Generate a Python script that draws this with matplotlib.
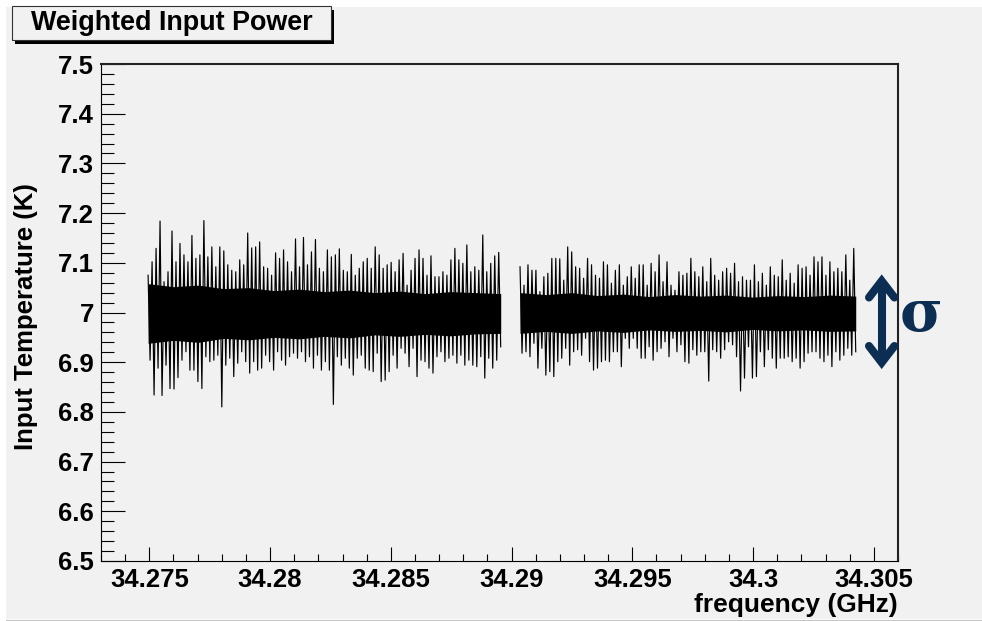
import numpy as np
import matplotlib
matplotlib.use('Agg')
import matplotlib.pyplot as plt
import matplotlib.ticker as mticker
import matplotlib.transforms as mtransforms
from matplotlib.patches import Rectangle
from matplotlib.lines import Line2D

W, H = 982, 621
BG = '#f1f1f1'
NAVY = '#0c2e52'

plt.rcParams['font.family'] = ['Liberation Sans', 'DejaVu Sans']
plt.rcParams['font.weight'] = 'bold'

title = 'Weighted Input Power'
x_label = 'frequency (GHz)'
y_label = 'Input Temperature (K)'
x_range = (34.273, 34.306)
y_range = (6.5, 7.5)

# first block of channels (GHz range), peak-high / peak-low temperatures
seg1_freq = (34.27495, 34.28955)
seg1_upper = [
    7.075, 7.102, 7.129, 7.184, 7.062, 7.082, 7.164, 7.102, 7.139, 7.116,
    7.102, 7.155, 7.109, 7.116, 7.185, 7.112, 7.132, 7.092, 7.132, 7.124,
    7.096, 7.085, 7.082, 7.106, 7.096, 7.160, 7.130, 7.132, 7.142, 7.092,
    7.089, 7.075, 7.120, 7.109, 7.126, 7.102, 7.082, 7.148, 7.092, 7.151,
    7.096, 7.122, 7.147, 7.089, 7.082, 7.126, 7.112, 7.116, 7.128, 7.085,
    7.082, 7.117, 7.075, 7.089, 7.102, 7.109, 7.089, 7.132, 7.116,
    7.089, 7.096, 7.101, 7.082, 7.106, 7.119, 7.055, 7.085, 7.109, 7.126,
    7.109, 7.075, 7.114, 7.072, 7.072, 7.082, 7.075, 7.106, 7.129, 7.106,
    7.099, 7.136, 7.082, 7.092, 7.085, 7.156, 7.082, 7.099, 7.114, 7.121,
]
seg1_lower = [
    6.904, 6.834, 6.888, 6.833, 6.894, 6.847, 6.846, 6.869, 6.904, 6.921,
    6.884, 6.884, 6.861, 6.847, 6.911, 6.901, 6.904, 6.914, 6.810, 6.894,
    6.908, 6.871, 6.898, 6.921, 6.901, 6.878, 6.901, 6.884, 6.888, 6.914,
    6.901, 6.884, 6.921, 6.904, 6.894, 6.911, 6.918, 6.908, 6.921, 6.901,
    6.911, 6.888, 6.914, 6.884, 6.901, 6.884, 6.815, 6.911, 6.894, 6.908,
    6.888, 6.874, 6.908, 6.914, 6.888, 6.884, 6.881, 6.918, 6.861,
    6.864, 6.881, 6.914, 6.888, 6.928, 6.918, 6.891, 6.928, 6.871, 6.904,
    6.901, 6.888, 6.878, 6.911, 6.921, 6.901, 6.908, 6.914, 6.898, 6.914,
    6.894, 6.904, 6.894, 6.891, 6.911, 6.868, 6.908, 6.888, 6.904, 6.931,
]
# edges of the solid dark band
seg1_core_hi = [7.058, 7.052, 7.055, 7.048, 7.050, 7.044, 7.047, 7.042,
                7.045, 7.040, 7.043, 7.038, 7.042, 7.040, 7.038]
seg1_core_lo = [6.938, 6.944, 6.940, 6.948, 6.945, 6.950, 6.947, 6.952,
                6.949, 6.955, 6.952, 6.956, 6.953, 6.957, 6.958]

# second block of channels
seg2_freq = (34.29035, 34.30425)
seg2_upper = [
    7.092, 7.055, 7.096, 7.085, 7.085, 7.042, 7.072, 7.079, 7.109, 7.109,
    7.108, 7.065, 7.132, 7.122, 7.092, 7.089, 7.069, 7.109, 7.096, 7.075,
    7.069, 7.102, 7.096, 7.059, 7.085, 7.096, 7.055, 7.072, 7.092, 7.069,
    7.096, 7.096, 7.055, 7.099, 7.082, 7.116, 7.062, 7.102, 7.055, 7.045,
    7.082, 7.075, 7.079, 7.109, 7.082, 7.072, 7.092, 7.062, 7.109, 7.075,
    7.065, 7.082, 7.089, 7.079, 7.099, 7.062, 7.072, 7.065, 7.065, 7.096,
    7.062, 7.079, 7.055, 7.092, 7.075, 7.072, 7.106, 7.065, 7.079, 7.059,
    7.096, 7.089, 7.092, 7.075, 7.112, 7.102, 7.112, 7.075, 7.102, 7.082,
    7.089, 7.082, 7.116, 7.065, 7.129,
]
seg2_lower = [
    6.918, 6.921, 6.911, 6.938, 6.888, 6.928, 6.874, 6.881, 6.871, 6.901,
    6.908, 6.928, 6.894, 6.921, 6.925, 6.914, 6.948, 6.901, 6.884, 6.888,
    6.901, 6.904, 6.901, 6.921, 6.921, 6.891, 6.948, 6.928, 6.948, 6.928,
    6.908, 6.908, 6.931, 6.904, 6.921, 6.928, 6.941, 6.911, 6.948, 6.921,
    6.935, 6.901, 6.898, 6.925, 6.914, 6.921, 6.921, 6.862, 6.925, 6.921,
    6.908, 6.925, 6.941, 6.935, 6.911, 6.842, 6.868, 6.931, 6.868, 6.871,
    6.921, 6.891, 6.925, 6.908, 6.888, 6.908, 6.908, 6.911, 6.901, 6.908,
    6.888, 6.901, 6.918, 6.921, 6.921, 6.908, 6.901, 6.914, 6.891, 6.921,
    6.904, 6.914, 6.928, 6.914, 6.921,
]
seg2_core_hi = [7.040, 7.036, 7.040, 7.034, 7.037, 7.032, 7.036,
                7.033, 7.035, 7.031, 7.034, 7.032, 7.035, 7.033]
seg2_core_lo = [6.958, 6.962, 6.958, 6.963, 6.960, 6.965, 6.962,
                6.964, 6.961, 6.966, 6.963, 6.965, 6.962, 6.963]

fig = plt.figure(figsize=(W / 100, H / 100), dpi=100, facecolor='white')
# pixel coords measured from the top-left corner, for the decorations
px = mtransforms.Affine2D().scale(1, -1).translate(0, H)

fig.add_artist(Rectangle((6, 7), W - 6, 612, transform=px, facecolor=BG,
                         edgecolor='none', zorder=-10))
fig.add_artist(Line2D([6, W], [619.5, 619.5], transform=px, color='#c4c4c4', lw=0.8, zorder=-9))

ax = fig.add_axes([101 / W, (H - 561) / H, 797 / W, 497 / H])
ax.set_facecolor(BG)

for frange, up, lo, chi, clo in [(seg1_freq, seg1_upper, seg1_lower, seg1_core_hi, seg1_core_lo),
                                  (seg2_freq, seg2_upper, seg2_lower, seg2_core_hi, seg2_core_lo)]:
    f = np.linspace(frange[0], frange[1], 2 * len(up))
    t = np.column_stack([up, lo]).ravel()
    ax.plot(f, t, color='black', lw=0.85)
    fc = np.linspace(frange[0], frange[1], len(chi))
    ax.fill_between(fc, clo, chi, color='black', lw=0)

ax.set_xlim(*x_range)
ax.set_ylim(*y_range)

fmt = mticker.FuncFormatter(lambda v, p: f'{round(v, 6):g}')
ax.xaxis.set_major_locator(mticker.MultipleLocator(0.005))
ax.xaxis.set_minor_locator(mticker.MultipleLocator(0.001))
ax.yaxis.set_major_locator(mticker.MultipleLocator(0.1))
ax.yaxis.set_minor_locator(mticker.MultipleLocator(0.02))
ax.xaxis.set_major_formatter(fmt)
ax.yaxis.set_major_formatter(fmt)

ax.tick_params(which='both', direction='in', top=False, right=False, color='black')
ax.tick_params(axis='x', which='major', length=10, width=0.8, pad=5, labelsize=18.5)
ax.tick_params(axis='x', which='minor', length=5, width=0.8)
ax.tick_params(axis='y', which='major', length=17, width=0.8, pad=5, labelsize=18.5)
ax.tick_params(axis='y', which='minor', length=9, width=0.8)

for s in ['left', 'bottom']:
    ax.spines[s].set_linewidth(0.8)
    ax.spines[s].set_color('black')
for s in ['top', 'right']:
    ax.spines[s].set_linewidth(1.5)
    ax.spines[s].set_color('#222222')

ax.text(1.0, (561 - 605) / 497, x_label, transform=ax.transAxes, ha='right', va='center',
        fontsize=19)
ax.text(-75 / 797, (561 - 316.5) / 497, y_label, transform=ax.transAxes, rotation=90,
        ha='center', va='center', fontsize=18.5)

# title box with shadow
fig.add_artist(Rectangle((15, 9.5), 319, 34, transform=px, facecolor='black',
                         edgecolor='none', zorder=5))
fig.add_artist(Rectangle((12, 6), 319, 34, transform=px, facecolor=BG,
                         edgecolor='#333333', lw=0.8, zorder=6))
fig.text(171.5, 23, title, transform=px, ha='center', va='center', fontsize=19.4, zorder=7)

# sigma marker
fig.add_artist(Line2D([881.7, 881.7], [282, 361], transform=px, color=NAVY, lw=5.8,
                      solid_capstyle='butt', zorder=8))
fig.add_artist(Line2D([869, 881.7, 894.4], [297.5, 281, 297.5], transform=px, color=NAVY,
                      lw=5.8, solid_joinstyle='miter', solid_capstyle='round', zorder=8))
fig.add_artist(Line2D([869, 881.7, 894.4], [346, 362.5, 346], transform=px, color=NAVY,
                      lw=5.8, solid_joinstyle='miter', solid_capstyle='round', zorder=8))
fig.text(921, 331, 'σ', transform=px, ha='center', va='baseline', fontsize=42,
         family='DejaVu Serif', color=NAVY, zorder=8)

fig.savefig('out.png', dpi=100, facecolor=fig.get_facecolor())
